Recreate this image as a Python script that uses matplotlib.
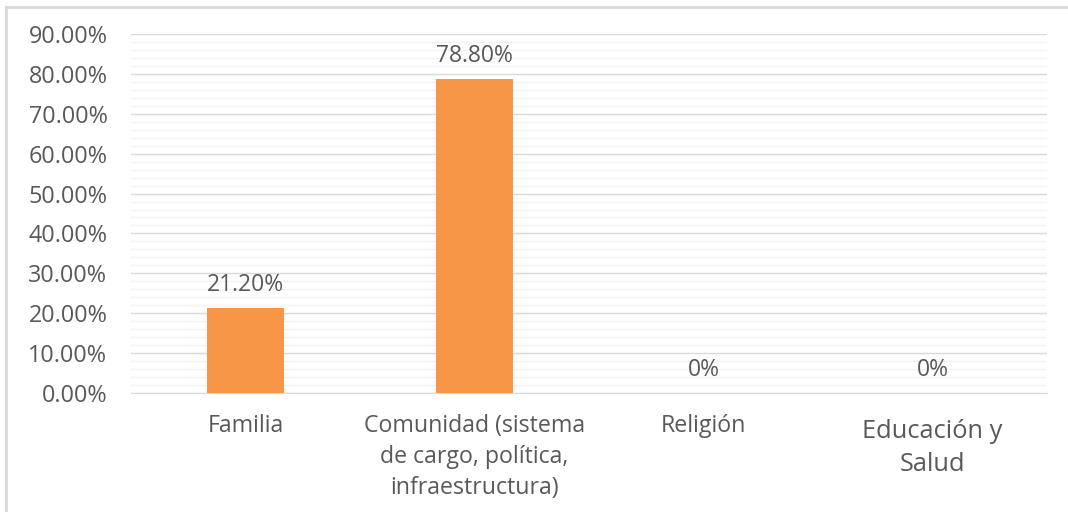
import matplotlib
matplotlib.use("Agg")
import matplotlib.pyplot as plt
from matplotlib.ticker import MultipleLocator, FuncFormatter
from matplotlib.lines import Line2D

categories = ["Familia", "Comunidad (sistema\nde cargo, política,\ninfraestructura)", "Religión", "Educación y\nSalud"]
values = [0.212, 0.788, 0.0, 0.0]
value_labels = ["21.20%", "78.80%", "0%", "0%"]

plt.rcParams['font.family'] = ['Open Sans', 'DejaVu Sans']
txt = "#595959"

fig = plt.figure(figsize=(10.68, 5.12), dpi=100)
ax = fig.add_axes([131/1068, 1-393/512, (1047-131)/1068, (393-34)/512])

x = list(range(len(categories)))
ax.bar(x, values, width=0.336, color="#F79646", zorder=3)
ax.set_xlim(-0.5, 3.5)
ax.set_ylim(0, 0.9)

ax.yaxis.set_major_locator(MultipleLocator(0.1))
ax.yaxis.set_minor_locator(MultipleLocator(0.02))
ax.yaxis.set_major_formatter(FuncFormatter(lambda v, p: f"{v*100:.2f}%"))
ax.grid(which="major", axis="y", color="#D9D9D9", lw=1.0, zorder=0)
ax.grid(which="minor", axis="y", color="#F2F2F2", lw=1.0, zorder=0)
ax.tick_params(axis="y", which="both", length=0, labelsize=16.8, labelcolor=txt, pad=17)
ax.tick_params(axis="x", length=0)
ax.set_xticks(x)
ax.set_xticklabels([])
for s in ["top", "right", "left"]:
    ax.spines[s].set_visible(False)
ax.spines["bottom"].set_color("#D9D9D9")

for xi, v, lab in zip(x, values, value_labels):
    ax.annotate(lab, (xi, v), xytext=(0, 8), textcoords="offset points",
                ha="center", va="bottom", fontsize=16.5, color=txt)

sizes = [16.7, 16.7, 16.7, 18.3]
offsets = [-15, -15, -15, -19]
for xi, cat, fs, off in zip(x, categories, sizes, offsets):
    ax.annotate(cat, (xi, 0), xytext=(0, off), textcoords="offset points",
                ha="center", va="top", fontsize=fs, color=txt, linespacing=1.38,
                annotation_clip=False)

# chart border (left and top visible)
fig.add_artist(Line2D([6/1068, 6/1068], [0, 1-7/512], transform=fig.transFigure, color="#D9D9D9", lw=2))
fig.add_artist(Line2D([6/1068, 1], [1-7/512, 1-7/512], transform=fig.transFigure, color="#D9D9D9", lw=2))

fig.savefig("out.png", dpi=100, facecolor="white")
